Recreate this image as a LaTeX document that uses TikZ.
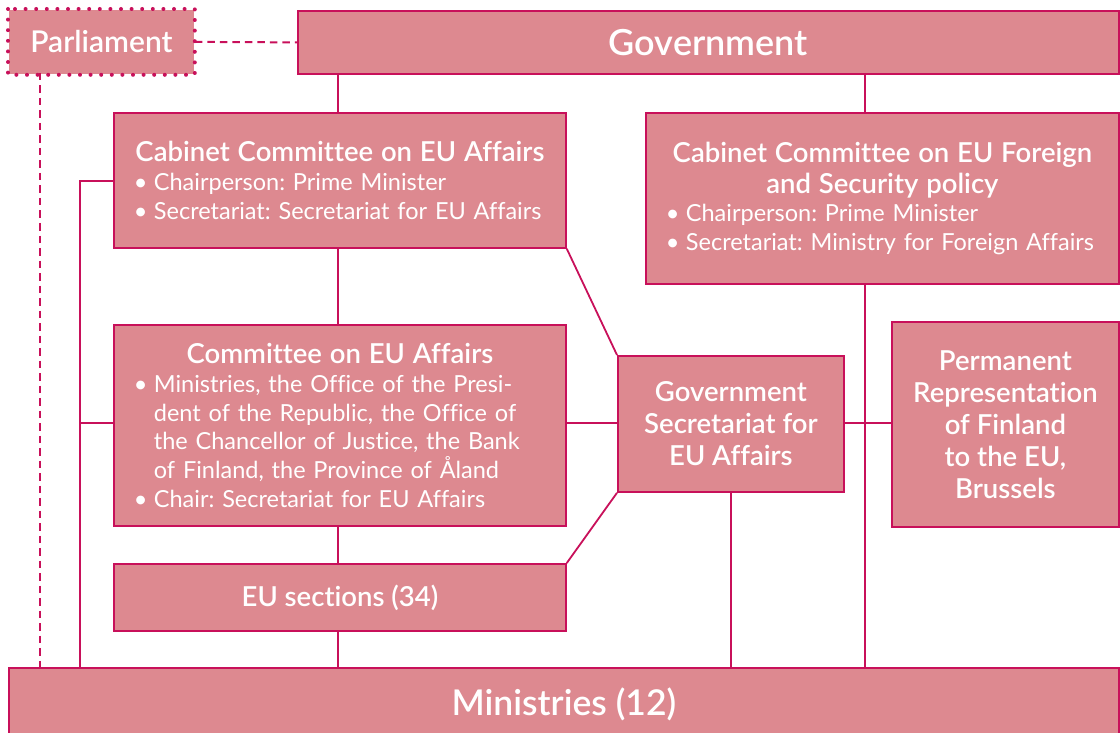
\documentclass[tikz,border=0pt]{standalone}
\usepackage{fontspec}
\setmainfont{Lato}[BoldFont={Lato Semibold},RawFeature=-liga]
\frenchspacing
\definecolor{boxfill}{HTML}{DD8990}
\definecolor{boxline}{HTML}{C8105A}
\newcommand{\ttl}[1]{{\noindent\makebox[\linewidth]{#1}\par}}
\newcommand{\bl}[1]{\noindent\makebox[20pt][l]{•}\mbox{#1}\par}
\newcommand{\cl}[1]{\noindent\hspace*{20pt}\mbox{#1}\par}
\begin{document}
\begin{tikzpicture}[x=1pt,y=-1pt,
  box/.style={draw=boxline, fill=boxfill, line width=1.8pt, inner sep=0pt, anchor=north west, text=white, font=\bfseries},
  link/.style={draw=boxline, line width=1.8pt},
  dlink/.style={draw=boxline, line width=2pt, dash pattern=on 7.5pt off 5pt},
  body/.style={font=\fontsize{23.5}{28.8}\selectfont}
]
\useasboundingbox (0,0) rectangle (1120,733);
% boxes
\node[box, minimum width=185pt, minimum height=64pt, draw=none, font=\bfseries\fontsize{30}{32}\selectfont] (parl) at (8,9) {Parliament};
\draw[boxline, line width=4pt, line cap=round, dash pattern=on 0pt off 10.6pt] (parl.north west) rectangle (parl.south east);
\node[box, minimum width=821pt, minimum height=63pt, font=\bfseries\fontsize{36}{40}\selectfont] (gov) at (297,10) {Government};
\node[box, minimum width=452pt, minimum height=135pt, text width=412pt, body] (cc1) at (113,112)
 {{\bfseries\fontsize{27.5}{30}\selectfont\ttl{Cabinet Committee on EU Affairs}}%
  \bl{Chairperson: Prime Minister}%
  \bl{Secretariat: Secretariat for EU Affairs}};
\node[box, minimum width=473pt, minimum height=171pt, text width=433pt, body] (cc2) at (645,112)
 {{\bfseries\fontsize{27.5}{31}\selectfont\ttl{Cabinet Committee on EU Foreign}\ttl{and Security policy}}%
  \bl{Chairperson: Prime Minister}%
  \bl{Secretariat: Ministry for Foreign Affairs}};
\node[box, minimum width=452pt, minimum height=201pt, text width=412pt, body] (com) at (113,324)
 {{\bfseries\fontsize{27.5}{30}\selectfont\ttl{Committee on EU Affairs}}%
  \bl{Ministries, the Office of the Presi-}%
  \cl{dent of the Republic, the Office of}%
  \cl{the Chancellor of Justice, the Bank}%
  \cl{of Finland, the Province of Åland}%
  \bl{Chair: Secretariat for EU Affairs}};
\node[box, minimum width=226pt, minimum height=136pt, align=center, font=\bfseries\fontsize{27.5}{32}\selectfont] (gs) at (617,355)
 {Government\\Secretariat for\\EU Affairs};
\node[box, minimum width=227pt, minimum height=205pt, align=center, font=\bfseries\fontsize{27.5}{32}\selectfont] (pr) at (891,321)
 {Permanent\\Representation\\of Finland\\to the EU,\\Brussels};
\node[box, minimum width=452pt, minimum height=67pt, font=\bfseries\fontsize{27.5}{30}\selectfont] (eus) at (113,563) {EU sections (34)};
\node[box, minimum width=1110pt, minimum height=80pt, font=\bfseries\fontsize{35.5}{40}\selectfont] (min) at (8,667) {\raisebox{13pt}{Ministries (12)}};
% helper coordinates
\coordinate (gv1) at (338,73);
\coordinate (gv2) at (865,73);
\coordinate (lb1) at (80,181);
\coordinate (lb2) at (80,423);
\coordinate (pv) at (40,73);
% connectors
\draw[dlink] (parl.east) -- (gov.west);
\draw[dlink] (pv) -- (pv |- min.north);
\draw[link] (gv1) -- (gv1 |- cc1.north);
\draw[link] (gv2) -- (gv2 |- cc2.north);
\draw[link] (cc1.south -| gv1) -- (com.north -| gv1);
\draw[link] (com.south -| gv1) -- (eus.north -| gv1);
\draw[link] (eus.south -| gv1) -- (min.north -| gv1);
\draw[link] (cc1.south east) -- (gs.north west);
\draw[link] (eus.north east) -- (gs.south west);
\draw[link] (com.east |- lb2) -- (gs.west |- lb2);
\draw[link] (gs.east |- lb2) -- (pr.west |- lb2);
\draw[link] (gv2 |- cc2.south) -- (gv2 |- min.north);
\draw[link] (gs.south) -- (min.north -| gs.south);
\draw[link] (cc1.west |- lb1) -- (lb1) -- (lb1 |- min.north);
\draw[link] (com.west |- lb2) -- (lb2);
\end{tikzpicture}
\end{document}
